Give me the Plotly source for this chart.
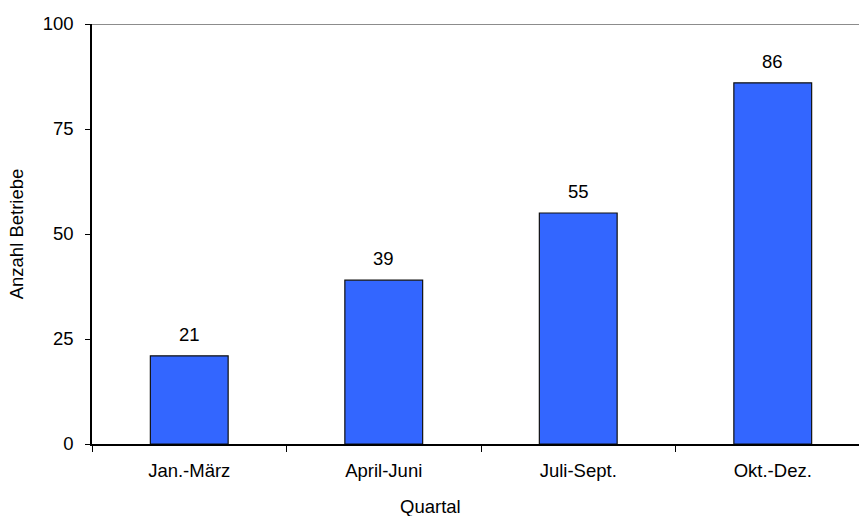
import plotly.graph_objects as go

categories = ["Jan.-März", "April-Juni", "Juli-Sept.", "Okt.-Dez."]
values = [21, 39, 55, 86]
y_ticks = [0, 25, 50, 75, 100]

FONT = "Liberation Sans, Arial, sans-serif"
FS = 18.5

fig = go.Figure()
fig.add_trace(go.Bar(
    x=categories, y=values,
    marker=dict(color="#3366FF", line=dict(color="#111111", width=1.2)),
    width=0.4,
    showlegend=False,
))

for c, v in zip(categories, values):
    fig.add_annotation(x=c, y=v, text=str(v), showarrow=False,
                       yanchor="bottom", yshift=9,
                       font=dict(family=FONT, size=FS, color="#000"))

fig.add_shape(type="line", xref="paper", yref="y", x0=0, x1=1, y0=100, y1=100,
              line=dict(color="#8c8c8c", width=2))

fig.add_annotation(text="Quartal", xref="paper", yref="paper", x=(430 - 92) / (859 - 92),
                   y=-(507 - 444) / 420, xanchor="center", yanchor="middle",
                   showarrow=False, font=dict(family=FONT, size=FS, color="#000"))

fig.update_layout(
    width=859, height=516,
    margin=dict(l=92, r=0, t=24, b=72),
    paper_bgcolor="white", plot_bgcolor="white",
    font=dict(family=FONT, size=FS, color="#000"),
    xaxis=dict(
        range=[-0.5, 3.5 - 11 / 194.5],
        showline=True, linecolor="#000", linewidth=1.5,
        ticks="outside", ticklen=6, tickcolor="#000", tickson="boundaries",
        showgrid=False, ticklabelstandoff=9,
    ),
    yaxis=dict(
        range=[0, 100], tickvals=y_ticks,
        showline=True, linecolor="#000", linewidth=1.5,
        ticks="outside", ticklen=5, tickcolor="#000",
        showgrid=False, zeroline=False, ticklabelstandoff=8,
        title=dict(text="Anzahl Betriebe", standoff=14,
                   font=dict(family=FONT, size=FS)),
    ),
)

fig.write_html("out.html")
